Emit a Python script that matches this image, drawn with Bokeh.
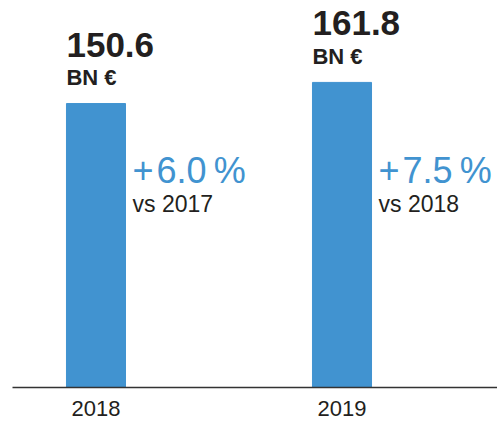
from bokeh.plotting import figure
from bokeh.models import ColumnDataSource, Range1d, FixedTicker
from bokeh.core.properties import value
from bokeh.embed import file_html
from bokeh.resources import INLINE

# ---- data ----
years = [2018, 2019]
year_labels = ["2018", "2019"]
revenue = [150.6, 161.8]
revenue_text = ["150.6", "161.8"]
unit_text = ["BN €", "BN €"]
growth_text = ["+\u200a6.0\u2009%", "+\u200a7.5\u2009%"]
compare_text = ["vs 2017", "vs 2018"]

# ---- style ----
BLUE = "#4193D0"
DARK = "#231F20"
FONT = "Liberation Sans"
BAR_W = 0.24
PCT_Y = 107.6

src = ColumnDataSource(dict(
    x=years, top=revenue, vtxt=revenue_text, unit=unit_text,
    left=[y - BAR_W / 2 for y in years], right=[y + BAR_W / 2 for y in years],
    pct=growth_text, cmp=compare_text, py=[PCT_Y] * len(years),
))

p = figure(width=497, height=421, output_backend="svg", toolbar_location=None,
           x_range=Range1d(2018 - 0.3394, 2019 + 0.6321), y_range=Range1d(0, 201),
           y_axis_location=None, min_border_left=12, min_border_right=0,
           min_border_top=8, min_border_bottom=34)
p.outline_line_color = None
p.xgrid.visible = False
p.ygrid.visible = False
p.background_fill_color = "white"
p.border_fill_color = "white"

p.vbar(x="x", top="top", bottom=0, width=BAR_W, color=BLUE, source=src)

p.text(x="left", y="top", text="vtxt", source=src, y_offset=-59,
       text_font=value(FONT), text_font_style="bold", text_font_size="35px",
       text_color=DARK, text_align="left", text_baseline="alphabetic")
p.text(x="left", y="top", text="unit", source=src, y_offset=-26,
       text_font=value(FONT), text_font_style="bold", text_font_size="22px",
       text_color=DARK, text_align="left", text_baseline="alphabetic")
p.text(x="right", y="py", text="pct", source=src, x_offset=7, y_offset=-14,
       text_font=value(FONT), text_font_size="36px",
       text_color=BLUE, text_align="left", text_baseline="alphabetic")
p.text(x="right", y="py", text="cmp", source=src, x_offset=7, y_offset=19,
       text_font=value(FONT), text_font_size="23px",
       text_color=DARK, text_align="left", text_baseline="alphabetic")

ax = p.xaxis[0]
ax.ticker = FixedTicker(ticks=years)
ax.major_label_overrides = {y: l for y, l in zip(years, year_labels)}
ax.major_tick_line_color = None
ax.minor_tick_line_color = None
ax.axis_line_color = "#333333"
ax.axis_line_width = 1.5
ax.major_label_text_font = FONT
ax.major_label_text_font_size = "22px"
ax.major_label_text_color = DARK
ax.major_label_standoff = 7

open("out.html", "w").write(file_html(p, INLINE))
